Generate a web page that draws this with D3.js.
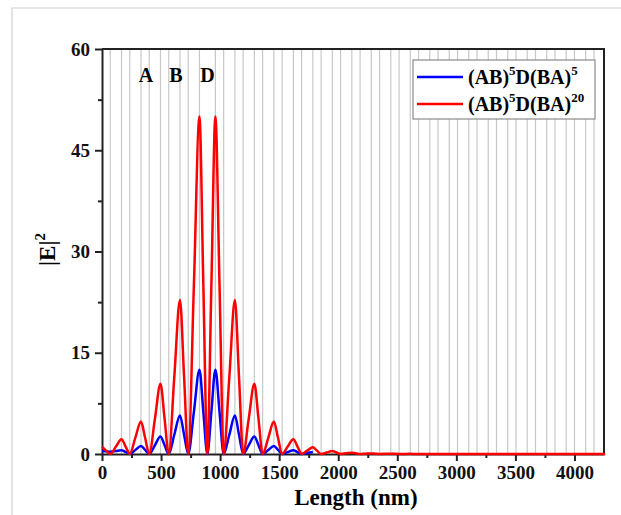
<!DOCTYPE html>
<html>
<head>
<meta charset="utf-8">
<script src="https://cdn.jsdelivr.net/npm/d3@7"></script>
<style>
  body { margin: 0; background: #fff; }
  svg, svg text { font-family: "Liberation Serif", "Times New Roman", serif; }
</style>
</head>
<body>
<div id="chart"></div>
<script>
// --- DATA ---
// layer thicknesses (nm): A, B and the defect D
const dA = 70, dB = 95, dD = 135;
const periodsLeft = 5, periodsRight = 20;
const layerLabels = ["A", "B", "D"];
const layerLabelX = [372, 625, 892]; // nm

const xTicks = [0, 500, 1000, 1500, 2000, 2500, 3000, 3500, 4000];
const yTicks = [0, 15, 30, 45, 60];

// |E|^2 for (AB)^5D(BA)^5 (blue)
const blueX = [0, 35, 70, 118, 165, 200, 235, 282, 330, 365, 400, 448, 495, 530, 565, 612, 660, 695, 730,
  778, 825, 858, 892, 926, 960, 995, 1030, 1078, 1125, 1160, 1195, 1242, 1290, 1325, 1360,
  1408, 1455, 1490, 1525, 1572, 1620, 1655, 1690, 1738, 1785];
const blueY = [0.45, 0.4, 0.35, 0.45, 0.55, 0.3, 0.02, 0.6, 1.2, 0.6, 0, 1.3, 2.6, 1.3, 0, 2.85, 5.7, 2.85, 0,
  6.25, 12.5, 6.25, 0, 6.25, 12.5, 6.25, 0, 2.85, 5.7, 2.85, 0, 1.3, 2.6, 1.3, 0,
  0.6, 1.2, 0.6, 0, 0.27, 0.55, 0.27, 0, 0.15, 0.3];

// |E|^2 for (AB)^5D(BA)^20 (red)
const redX = [0, 35, 70, 118, 165, 200, 235, 282, 330, 365, 400, 448, 495, 530, 565, 612, 660, 695, 730,
  778, 825, 858, 892, 926, 960, 995, 1030, 1078, 1125, 1160, 1195, 1242, 1290, 1325, 1360,
  1408, 1455, 1490, 1525, 1572, 1620, 1655, 1690, 1738, 1785, 1820, 1855, 1902, 1950, 1985, 2020,
  2068, 2115, 2150, 2185, 2232, 2280, 2315, 2350, 2445, 2515, 2610, 2680, 4260];
const redY = [1.05, 0.5, 0, 1.1, 2.2, 1.1, 0, 2.4, 4.8, 2.4, 0, 5.2, 10.4, 5.2, 0, 11.4, 22.8, 11.4, 0,
  25, 50, 25, 0, 25, 50, 25, 0, 11.4, 22.8, 11.4, 0, 5.2, 10.4, 5.2, 0,
  2.4, 4.8, 2.4, 0, 1.1, 2.2, 1.1, 0, 0.5, 1.0, 0.5, 0, 0.22, 0.45, 0.22, 0,
  0.1, 0.2, 0.1, 0, 0.05, 0.09, 0.05, 0, 0.04, 0, 0.02, 0, 0];

const seriesColors = ["#0000ff", "#ff0000"];

// --- SETUP ---
const FONT = "Liberation Serif, Times New Roman, serif";
const width = 621, height = 515;
const margin = { top: 49, right: 17, bottom: 61, left: 102 };
const boundsWidth = width - margin.left - margin.right;
const boundsHeight = height - margin.top - margin.bottom;

const svg = d3.select("#chart").append("svg")
  .attr("width", width).attr("height", height);

// light outer frame
svg.append("path")
  .attr("d", `M12,${height + 2} L12,8 L${width + 2},8`)
  .attr("fill", "none").attr("stroke", "#cfcfcf").attr("stroke-width", 1.2);

const bounds = svg.append("g")
  .attr("transform", `translate(${margin.left},${margin.top})`);

// --- SCALES ---
const xScale = d3.scaleLinear().domain([0, 4250]).range([0, boundsWidth]);
const yScale = d3.scaleLinear().domain([0, 60]).range([boundsHeight, 0]);

// layer boundaries -> vertical grid lines
const thicknesses = [];
for (let i = 0; i < periodsLeft; i++) thicknesses.push(dA, dB);
thicknesses.push(dD);
for (let i = 0; i < periodsRight; i++) thicknesses.push(dA, dB);
const boundaries = d3.cumsum(thicknesses).filter(b => b < 4250);

bounds.selectAll(".grid")
  .data(boundaries).enter().append("line")
  .attr("class", "grid")
  .attr("x1", d => xScale(d)).attr("x2", d => xScale(d))
  .attr("y1", 0).attr("y2", boundsHeight)
  .attr("stroke", "#c8c8c8").attr("stroke-width", 1.2);

// layer labels
bounds.selectAll(".layer-label")
  .data(layerLabels).enter().append("text")
  .attr("x", (d, i) => xScale(layerLabelX[i]))
  .attr("y", 33)
  .attr("text-anchor", "middle")
  .attr("font-family", FONT)
  .style("font-size", "20px").style("font-weight", "bold")
  .text(d => d);

// --- AXES ---
const axisColor = "#222";
const xMinor = d3.range(250, 4250, 500);
const yMinor = d3.range(7.5, 60, 15);

const xAxis = bounds.append("g").attr("transform", `translate(0,${boundsHeight})`);
xAxis.call(d3.axisBottom(xScale).tickValues(xTicks).tickFormat(d3.format("d"))
  .tickSize(7).tickSizeOuter(0).tickPadding(5));
xAxis.append("g").call(d3.axisBottom(xScale).tickValues(xMinor).tickSize(4).tickFormat(""))
  .select(".domain").remove();

const yAxis = bounds.append("g");
yAxis.call(d3.axisLeft(yScale).tickValues(yTicks).tickFormat(d3.format("d"))
  .tickSize(7).tickSizeOuter(0).tickPadding(5));
yAxis.append("g").call(d3.axisLeft(yScale).tickValues(yMinor).tickSize(4).tickFormat(""))
  .select(".domain").remove();

[xAxis, yAxis].forEach(ax => {
  ax.attr("font-family", FONT);
  ax.selectAll("path, line").attr("stroke", axisColor).attr("stroke-width", 2);
  ax.selectAll("text")
    .style("font-size", "19px").style("font-weight", "bold").attr("fill", "#111");
});

// top + right frame
bounds.append("path")
  .attr("d", `M0,0 H${boundsWidth} V${boundsHeight}`)
  .attr("fill", "none").attr("stroke", axisColor).attr("stroke-width", 2);

// axis titles
svg.append("text")
  .attr("x", margin.left + xScale(2150)).attr("y", 505)
  .attr("text-anchor", "middle")
  .attr("font-family", FONT)
  .style("font-size", "23px").style("font-weight", "bold")
  .text("Length (nm)");

const yTitle = svg.append("text")
  .attr("transform", `translate(55,${margin.top + boundsHeight / 2 - 2}) rotate(-90)`)
  .attr("text-anchor", "middle")
  .attr("font-family", FONT)
  .style("font-size", "23px").style("font-weight", "bold");
yTitle.append("tspan").text("|E|");
yTitle.append("tspan").attr("dy", -10).style("font-size", "15px").text("2");

// --- LINES ---
const lineGenerator = d3.line()
  .x(d => xScale(d[0]))
  .y(d => yScale(d[1]))
  .curve(d3.curveMonotoneX);

const series = [
  { name: "blue", values: d3.zip(blueX, blueY) },
  { name: "red", values: d3.zip(redX, redY) }
];

bounds.selectAll(".line-path")
  .data(series).enter().append("path")
  .attr("class", "line-path")
  .attr("fill", "none")
  .attr("stroke-width", 2.5)
  .attr("stroke-linejoin", "round")
  .attr("stroke", (d, i) => seriesColors[i])
  .attr("d", d => lineGenerator(d.values));

// --- LEGEND ---
const legend = svg.append("g").attr("transform", "translate(413,60)");
legend.append("rect")
  .attr("width", 182).attr("height", 59)
  .attr("fill", "#fff").attr("stroke", "#8a8a8a").attr("stroke-width", 1.2);

const legendRows = [
  { sup1: "5", sup2: "5" },
  { sup1: "5", sup2: "20" }
];
legendRows.forEach((r, i) => {
  const y = 17 + i * 27;
  legend.append("line")
    .attr("x1", 4).attr("x2", 50).attr("y1", y).attr("y2", y)
    .attr("stroke", seriesColors[i]).attr("stroke-width", 2.5);
  const t = legend.append("text")
    .attr("x", 55).attr("y", y + 7)
    .attr("font-family", FONT)
    .style("font-size", "20px").style("font-weight", "bold");
  t.append("tspan").text("(AB)");
  t.append("tspan").attr("dy", -9).style("font-size", "13px").text(r.sup1);
  t.append("tspan").attr("dy", 9).text("D(BA)");
  t.append("tspan").attr("dy", -9).style("font-size", "13px").text(r.sup2);
});
</script>
</body>
</html>
